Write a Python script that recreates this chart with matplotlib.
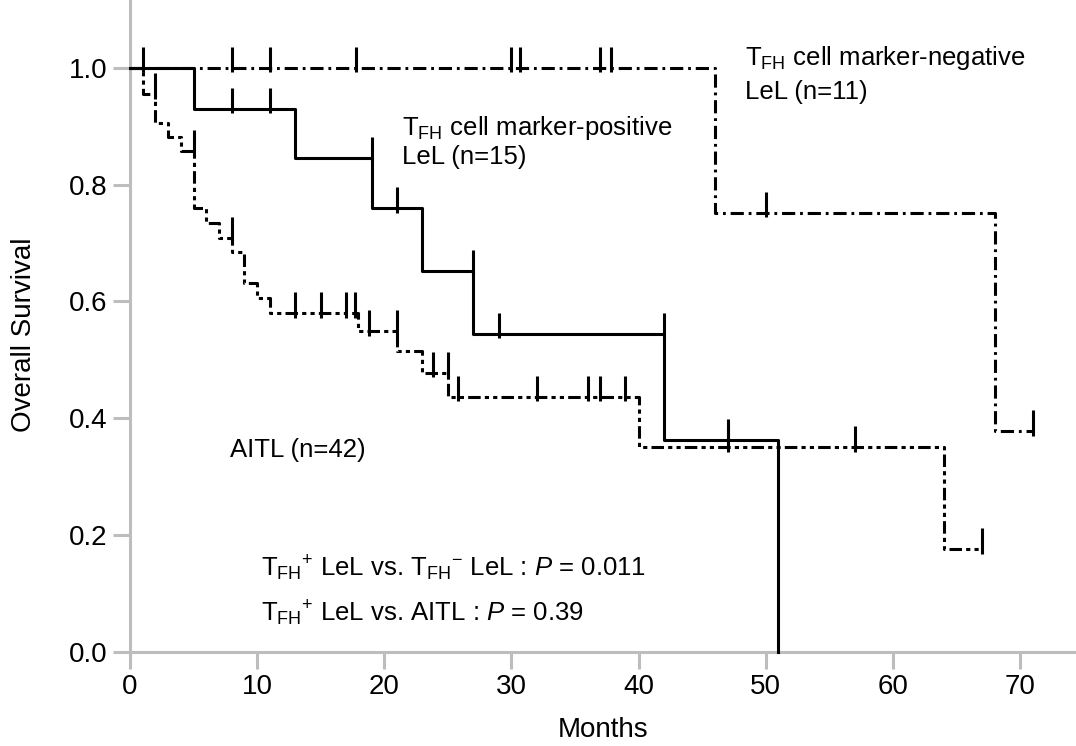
import numpy as np
import matplotlib
matplotlib.use("Agg")
import matplotlib.pyplot as plt

plt.rcParams['font.family'] = ['Liberation Sans', 'DejaVu Sans']
plt.rcParams['mathtext.fontset'] = 'custom'
plt.rcParams['mathtext.rm'] = 'Liberation Sans'
plt.rcParams['mathtext.it'] = 'Liberation Sans:italic'
plt.rcParams['mathtext.bf'] = 'Liberation Sans:bold'
plt.rcParams['lines.scale_dashes'] = False

# Kaplan-Meier step data (time in months, survival after the event)
aitl_t = [0, 1, 2, 3, 4, 5, 6, 7, 8, 9, 10, 11, 17.9, 21, 23, 25, 40, 64, 67]
aitl_s = [1.0, 0.955, 0.905, 0.882, 0.858, 0.760, 0.735, 0.709, 0.685, 0.632,
          0.606, 0.580, 0.549, 0.515, 0.478, 0.437, 0.351, 0.176, 0.176]
aitl_cens = [2, 5, 8, 13, 15, 17, 17.7, 18.8, 21, 23.8, 25, 25.8, 32, 36, 37, 38.9, 47, 57, 67]

pos_t = [0, 5, 13, 19, 23, 27, 42, 51]
pos_s = [1.0, 0.930, 0.846, 0.760, 0.652, 0.545, 0.363, 0.0]
pos_cens = [8, 11, 19, 21, 27, 29, 42, 47]

neg_t = [0, 46, 68, 71]
neg_s = [1.0, 0.752, 0.378, 0.378]
neg_cens = [1, 8, 11, 17.8, 30, 30.7, 37, 37.8, 50, 71]


def surv_at(t, s, c):
    # value of the curve just before time c (censor ticks sit on the upper level)
    idx = np.searchsorted(t, c, side='left') - 1
    return np.array(s)[np.clip(idx, 0, len(s) - 1)]


fig = plt.figure(figsize=(10.76, 7.46), dpi=100)
ax = fig.add_axes([130 / 1076, 94 / 746, 946 / 1076, 652 / 746])

lw = 2.2
curves = [
    (aitl_t, aitl_s, aitl_cens, (0, (9, 3, 3, 3, 3, 3))),
    (pos_t, pos_s, pos_cens, '-'),
    (neg_t, neg_s, neg_cens, (0, (9.5, 3.5, 2, 3.5))),
]
for t, s, c, ls in curves:
    ax.step(t, s, where='post', color='black', lw=lw, linestyle=ls,
            clip_on=False, zorder=3)
    ys = surv_at(t, s, c)
    ax.vlines(c, ys - 0.008, ys + 0.036, color='black', lw=lw, zorder=3,
              clip_on=False)

ax.set_xlim(0, 74.4)
ax.set_ylim(0, 1.116)
ax.set_xticks([0, 10, 20, 30, 40, 50, 60, 70])
ax.set_yticks([0.0, 0.2, 0.4, 0.6, 0.8, 1.0])
ax.set_yticklabels(['0.0', '0.2', '0.4', '0.6', '0.8', '1.0'])

for side in ['top', 'right']:
    ax.spines[side].set_visible(False)
for side in ['left', 'bottom']:
    ax.spines[side].set_color('#bdbdbd')
    ax.spines[side].set_linewidth(2.2)
ax.tick_params(axis='both', colors='#bdbdbd', width=2.2, length=12,
               labelsize=20, labelcolor='black', pad=4)

ax.set_xlabel('Months', fontsize=20)
ax.set_ylabel('Overall Survival', fontsize=20)
ax.xaxis.set_label_coords(0.5, -0.12)
ax.xaxis.label.set_va('center')
ax.yaxis.set_label_coords(-0.112, 0.487)
ax.yaxis.label.set_va('center')

fs = 18.5
FH = r'$_{\mathrm{FH}}$'
ax.text(48.4, 1.005, 'T' + FH + ' cell marker-negative', fontsize=fs, va='baseline')
ax.text(48.4, 0.946, 'LeL (n=11)', fontsize=fs, va='baseline')
ax.text(21.4, 0.885, 'T' + FH + ' cell marker-positive', fontsize=fs, va='baseline')
ax.text(21.4, 0.836, 'LeL (n=15)', fontsize=fs, va='baseline')
ax.text(7.9, 0.334, 'AITL (n=42)', fontsize=fs, va='baseline')
ax.text(10.3, 0.130,
        r'T$_{\mathrm{FH}}{}^{\mathrm{+}}$ LeL vs. T$_{\mathrm{FH}}{}^{\mathrm{−}}$ LeL : $P$ = 0.011',
        fontsize=fs, va='baseline')
ax.text(10.3, 0.052,
        r'T$_{\mathrm{FH}}{}^{\mathrm{+}}$ LeL vs. AITL : $P$ = 0.39',
        fontsize=fs, va='baseline')

fig.savefig('out.png', dpi=100)
